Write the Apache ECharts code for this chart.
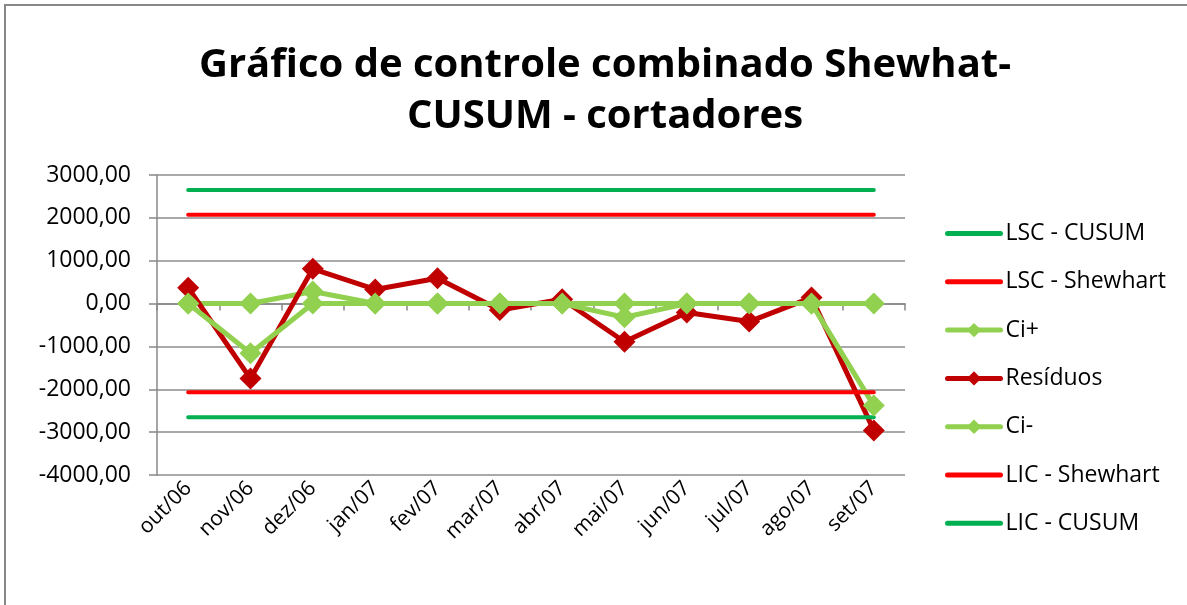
<!DOCTYPE html>
<html>
<head>
<meta charset="utf-8">
<script src="https://cdn.jsdelivr.net/npm/echarts@6/dist/echarts.min.js"></script>
<style>
  html, body { margin: 0; padding: 0; background: #fff; }
  #chart { width: 1187px; height: 605px; }
</style>
</head>
<body>
<div id="chart"></div>
<script>
// Months of the control period
const categories = ['out/06', 'nov/06', 'dez/06', 'jan/07', 'fev/07', 'mar/07',
                    'abr/07', 'mai/07', 'jun/07', 'jul/07', 'ago/07', 'set/07'];

// Residuals and CUSUM statistics
const residuos = [370, -1750, 810, 330, 590, -150, 100, -890, -210, -420, 140, -2960];
const ciPlus   = [0, 0, 280, 0, 0, 0, 0, 0, 0, 0, 0, 0];
const ciMinus  = [0, -1160, 0, 0, 0, 0, 0, -320, 0, 0, 0, -2380];

// Control limits
const lscCusum    = [2650, 2650, 2650, 2650, 2650, 2650, 2650, 2650, 2650, 2650, 2650, 2650];
const lscShewhart = [2070, 2070, 2070, 2070, 2070, 2070, 2070, 2070, 2070, 2070, 2070, 2070];
const licShewhart = [-2070, -2070, -2070, -2070, -2070, -2070, -2070, -2070, -2070, -2070, -2070, -2070];
const licCusum    = [-2650, -2650, -2650, -2650, -2650, -2650, -2650, -2650, -2650, -2650, -2650, -2650];

// Y axis range
const yMin = -4000, yMax = 3000, yStep = 1000;

const FONT = '"Open Sans", "Noto Sans", sans-serif';
const GREEN = '#00B050', RED = '#FF0000', LIGHT = '#92D050', DARK = '#C00000';

function limitSeries(name, data, color) {
  return {
    name, type: 'line', data, xAxisIndex: 0,
    symbol: 'none', showSymbol: false,
    lineStyle: { color, width: 4, cap: 'round' },
    itemStyle: { color },
    emphasis: { disabled: true }, animation: false
  };
}
function markedSeries(name, data, color) {
  return {
    name, type: 'line', data, xAxisIndex: 0,
    symbol: 'diamond', symbolSize: 22,
    lineStyle: { color, width: 5, join: 'round' },
    itemStyle: { color },
    emphasis: { disabled: true }, animation: false
  };
}

// Legend entries: limit lines show only their stroke, no marker
const legendLine = { width: 5, cap: 'round' };
const legendItems = [
  { name: 'LSC - CUSUM', itemStyle: { opacity: 0 }, lineStyle: legendLine },
  { name: 'LSC - Shewhart', itemStyle: { opacity: 0 }, lineStyle: legendLine },
  { name: 'Ci+', lineStyle: legendLine },
  { name: 'Resíduos', lineStyle: legendLine },
  { name: 'Ci-', lineStyle: legendLine },
  { name: 'LIC - Shewhart', itemStyle: { opacity: 0 }, lineStyle: legendLine },
  { name: 'LIC - CUSUM', itemStyle: { opacity: 0 }, lineStyle: legendLine }
];

const chart = echarts.init(document.getElementById('chart'), null, { renderer: 'canvas' });
chart.setOption({
  backgroundColor: '#fff',
  animation: false,
  title: {
    text: 'Gráfico de controle combinado Shewhat-\nCUSUM - cortadores',
    left: 600, top: 35, textAlign: 'center',
    textStyle: { fontFamily: FONT, fontWeight: 'bold', fontSize: 40, lineHeight: 51, color: '#000' }
  },
  graphic: [{
    type: 'rect', silent: true,
    shape: { x: 5, y: 5, width: 1300, height: 700 },
    style: { fill: 'none', stroke: '#888', lineWidth: 2 }
  }],
  legend: {
    orient: 'vertical', left: 945, top: 222, padding: 0,
    itemWidth: 53, itemHeight: 18, itemGap: 25.3,
    textStyle: { fontFamily: FONT, fontSize: 23, lineHeight: 23, color: '#000' },
    data: legendItems
  },
  grid: { left: 157, right: 282, top: 175, bottom: 130, containLabel: false },
  xAxis: [{
    type: 'category', data: categories, boundaryGap: true,
    axisLine: { onZero: true, lineStyle: { color: '#888', width: 1.5 } },
    axisTick: { show: true, length: 7, lineStyle: { color: '#888', width: 1.5 } },
    axisLabel: { show: false }, splitLine: { show: false }
  }, {
    type: 'category', data: categories, boundaryGap: true, position: 'bottom',
    axisLine: { show: false, onZero: false }, axisTick: { show: false },
    axisLabel: { rotate: 45, margin: 10, fontFamily: FONT, fontSize: 21, color: '#000' },
    splitLine: { show: false }
  }],
  yAxis: {
    type: 'value', min: yMin, max: yMax, interval: yStep,
    axisLine: { show: true, lineStyle: { color: '#888', width: 1.5 } },
    axisTick: { show: true, length: 8, lineStyle: { color: '#888', width: 1.5 } },
    splitLine: { lineStyle: { color: '#8c8c8c', width: 1.5 } },
    axisLabel: {
      margin: 26, fontFamily: FONT, fontSize: 23, color: '#000',
      formatter: v => v.toFixed(2).replace('.', ',')
    }
  },
  series: [
    limitSeries('LSC - CUSUM', lscCusum, GREEN),
    limitSeries('LSC - Shewhart', lscShewhart, RED),
    markedSeries('Ci+', ciPlus, LIGHT),
    markedSeries('Resíduos', residuos, DARK),
    markedSeries('Ci-', ciMinus, LIGHT),
    limitSeries('LIC - Shewhart', licShewhart, RED),
    limitSeries('LIC - CUSUM', licCusum, GREEN)
  ]
});
</script>
</body>
</html>
